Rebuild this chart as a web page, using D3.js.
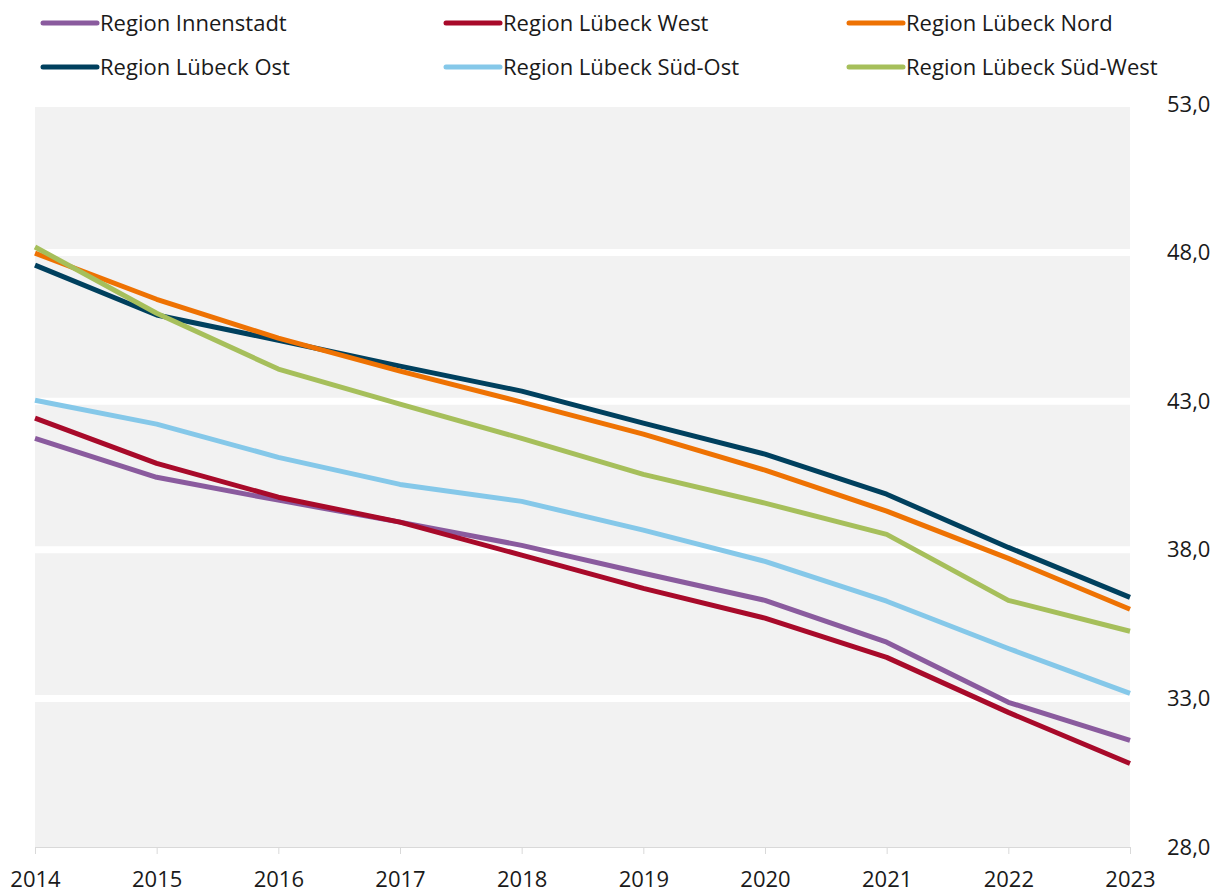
<!DOCTYPE html>
<html>
<head>
<meta charset="utf-8">
<script src="https://cdn.jsdelivr.net/npm/d3@7"></script>
<style>
  body { margin: 0; background: #fff; }
  svg { font-family: 'Open Sans', 'Noto Sans', sans-serif; }
</style>
</head>
<body>
<svg width="1219" height="891"></svg>
<script>
// data
const years = [2014, 2015, 2016, 2017, 2018, 2019, 2020, 2021, 2022, 2023];
const yTicks = [28, 33, 38, 43, 48, 53];

const innenstadt = [41.75, 40.44, 39.67, 38.93, 38.15, 37.21, 36.3, 34.89, 32.87, 31.59];
const west       = [42.43, 40.91, 39.77, 38.93, 37.82, 36.7, 35.7, 34.38, 32.53, 30.81];
const nord       = [47.98, 46.43, 45.12, 44.01, 42.97, 41.89, 40.68, 39.3, 37.71, 36.0];
const ost        = [47.58, 45.9, 45.05, 44.18, 43.34, 42.26, 41.22, 39.87, 38.08, 36.4];
const suedOst    = [43.03, 42.23, 41.11, 40.2, 39.63, 38.66, 37.61, 36.27, 34.68, 33.17];
const suedWest   = [48.19, 45.96, 44.08, 42.9, 41.75, 40.54, 39.57, 38.52, 36.3, 35.26];

const series = [
  {name: 'Region Innenstadt', color: '#8a5b9e', values: innenstadt},
  {name: 'Region Lübeck West', color: '#a80a2a', values: west},
  {name: 'Region Lübeck Nord', color: '#ee7203', values: nord},
  {name: 'Region Lübeck Ost', color: '#00405e', values: ost},
  {name: 'Region Lübeck Süd-Ost', color: '#85c8e9', values: suedOst},
  {name: 'Region Lübeck Süd-West', color: '#a6bf5b', values: suedWest}
];
// drawing order (last on top)
const drawOrder = [0, 1, 3, 2, 4, 5];

const svg = d3.select('svg');
const plotLeft = 35, plotRight = 1130, plotTop = 104, plotBottom = 847;
const fontSize = 22;

const x = d3.scaleLinear().domain([2014, 2023]).range([plotLeft, plotRight]);
const y = d3.scaleLinear().domain([28, 53]).range([plotBottom, plotTop]);

// plot background
svg.append('rect')
  .attr('x', plotLeft).attr('y', 107)
  .attr('width', plotRight - plotLeft).attr('height', plotBottom - 107)
  .attr('fill', '#f2f2f2');

// white grid bands
svg.append('g').selectAll('line')
  .data(yTicks.filter(t => t > 28 && t < 53)).enter()
  .append('line')
  .attr('x1', plotLeft).attr('x2', plotRight)
  .attr('y1', d => y(d)).attr('y2', d => y(d))
  .attr('stroke', '#fff').attr('stroke-width', 7);

// x axis
const xAxis = d3.axisBottom(x)
  .tickValues(years)
  .tickFormat(d3.format('d'))
  .tickSize(7)
  .tickPadding(17);
const gx = svg.append('g')
  .attr('transform', 'translate(0,' + plotBottom + ')')
  .call(xAxis);
gx.select('.domain').attr('stroke', '#d9d9d9');
gx.selectAll('.tick line').attr('stroke', '#d9d9d9');
gx.selectAll('.tick text')
  .attr('font-size', fontSize).attr('fill', '#1a1a1a')
  .attr('font-family', "'Open Sans', sans-serif");

// y axis on the right
const yAxis = d3.axisRight(y)
  .tickValues(yTicks)
  .tickFormat(d => d3.format('.1f')(d).replace('.', ','))
  .tickSize(0)
  .tickPadding(37);
const gy = svg.append('g')
  .attr('transform', 'translate(' + plotRight + ',0)')
  .call(yAxis);
gy.select('.domain').remove();
gy.selectAll('.tick text')
  .attr('font-size', fontSize).attr('fill', '#1a1a1a')
  .attr('font-family', "'Open Sans', sans-serif");

// lines
const line = d3.line()
  .x((d, i) => x(years[i]))
  .y(d => y(d));

svg.append('g').selectAll('path')
  .data(drawOrder.map(i => series[i])).enter()
  .append('path')
  .attr('fill', 'none')
  .attr('stroke', d => d.color)
  .attr('stroke-width', 5)
  .attr('stroke-linejoin', 'round')
  .attr('d', d => line(d.values));

// legend: 3 columns, 2 rows
const legend = svg.append('g').selectAll('g')
  .data(series).enter()
  .append('g')
  .attr('transform', (d, i) => 'translate(' + (43 + (i % 3) * 403) + ',' + (23 + Math.floor(i / 3) * 44) + ')');

legend.append('line')
  .attr('x1', 0).attr('x2', 54)
  .attr('y1', 0).attr('y2', 0)
  .attr('stroke', d => d.color)
  .attr('stroke-width', 5)
  .attr('stroke-linecap', 'round');

legend.append('text')
  .attr('x', 57)
  .attr('dy', '0.35em')
  .attr('font-size', fontSize)
  .attr('fill', '#1a1a1a')
  .text(d => d.name);
</script>
</body>
</html>
